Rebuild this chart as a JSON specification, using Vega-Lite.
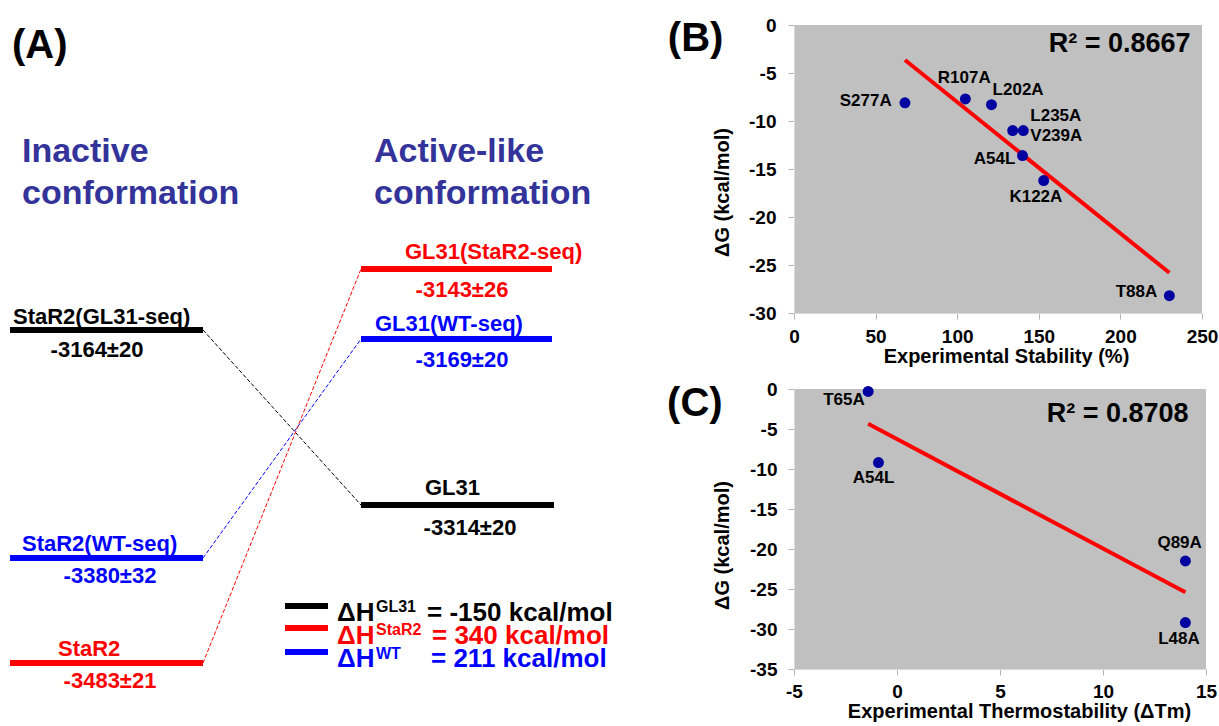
{
  "$schema": "https://vega.github.io/schema/vega-lite/v6.json",
  "background": "white",
  "padding": {"left": 0, "top": 16, "right": 0, "bottom": 0},
  "spacing": 37,
  "config": {
    "font": "Liberation Sans",
    "axis": {
      "labelFont": "Liberation Sans", "labelFontWeight": "bold", "labelFontSize": 19, "labelColor": "#000000",
      "titleFont": "Liberation Sans", "titleFontWeight": "bold", "titleFontSize": 20, "titleColor": "#000000",
      "domainColor": "#d9d9d9", "tickColor": "#b3b3b3", "tickSize": 6, "grid": false,
      "labelOverlap": false, "labelFlush": false, "labelBound": false
    },
    "text": {"font": "Liberation Sans", "fontWeight": "bold"}
  },
  "datasets": {
    "levels": [
      {"name": "StaR2(GL31-seq)", "series": "GL31", "x": 10, "x2": 203, "y": 321},
      {"name": "StaR2(WT-seq)", "series": "WT", "x": 10, "x2": 203, "y": 549},
      {"name": "StaR2", "series": "StaR2", "x": 10, "x2": 203, "y": 654},
      {"name": "GL31(StaR2-seq)", "series": "StaR2", "x": 361, "x2": 552, "y": 260},
      {"name": "GL31(WT-seq)", "series": "WT", "x": 361, "x2": 552, "y": 330},
      {"name": "GL31", "series": "GL31", "x": 361, "x2": 554, "y": 496}
    ],
    "connectors": [
      {"series": "GL31", "x": 203, "y": 321, "x2": 361, "y2": 496},
      {"series": "WT", "x": 203, "y": 549, "x2": 361, "y2": 330},
      {"series": "StaR2", "x": 203, "y": 654, "x2": 361, "y2": 260}
    ],
    "swatches": [
      {"series": "GL31", "x": 285, "x2": 328, "y": 597},
      {"series": "StaR2", "x": 285, "x2": 328, "y": 619},
      {"series": "WT", "x": 285, "x2": 328, "y": 643}
    ],
    "leveltext": [
      {"t": "StaR2(GL31-seq)", "series": "GL31", "x": 13, "y": 315},
      {"t": "StaR2(WT-seq)", "series": "WT", "x": 22, "y": 542},
      {"t": "StaR2", "series": "StaR2", "x": 58, "y": 647},
      {"t": "GL31(StaR2-seq)", "series": "StaR2", "x": 405, "y": 250},
      {"t": "GL31(WT-seq)", "series": "WT", "x": 375, "y": 322},
      {"t": "GL31", "series": "GL31", "x": 425, "y": 486}
    ],
    "valuetext": [
      {"t": "-3164±20", "series": "GL31", "x": 97, "y": 348},
      {"t": "-3380±32", "series": "WT", "x": 110, "y": 574},
      {"t": "-3483±21", "series": "StaR2", "x": 110, "y": 679},
      {"t": "-3143±26", "series": "StaR2", "x": 462, "y": 288},
      {"t": "-3169±20", "series": "WT", "x": 462, "y": 358},
      {"t": "-3314±20", "series": "GL31", "x": 470, "y": 526}
    ],
    "headers": [
      {"t": "Inactive", "series": "header", "x": 22, "y": 153},
      {"t": "conformation", "series": "header", "x": 22, "y": 195},
      {"t": "Active-like", "series": "header", "x": 374, "y": 153},
      {"t": "conformation", "series": "header", "x": 374, "y": 195}
    ],
    "legendtext": [
      {"t": "ΔH", "series": "GL31", "x": 337, "y": 612},
      {"t": "= -150 kcal/mol", "series": "GL31", "x": 427, "y": 612},
      {"t": "ΔH", "series": "StaR2", "x": 337, "y": 635},
      {"t": "= 340 kcal/mol", "series": "StaR2", "x": 432, "y": 635},
      {"t": "ΔH", "series": "WT", "x": 337, "y": 658},
      {"t": "= 211 kcal/mol", "series": "WT", "x": 431, "y": 658}
    ],
    "supertext": [
      {"t": "GL31", "series": "GL31", "x": 376, "y": 603},
      {"t": "StaR2", "series": "StaR2", "x": 376, "y": 626},
      {"t": "WT", "series": "WT", "x": 376, "y": 650}
    ],
    "panelA": [{"t": "(A)", "x": 12, "y": 49}],
    "B": [
      {"mutant": "S277A", "stab": 68, "dG": -8.1, "lx": 59.9, "ly": -7.95, "side": "end"},
      {"mutant": "R107A", "stab": 105, "dG": -7.7, "lx": 104.3, "ly": -5.49, "side": "center"},
      {"mutant": "L202A", "stab": 121, "dG": -8.3, "lx": 121.7, "ly": -6.8, "side": "start"},
      {"mutant": "L235A", "stab": 134, "dG": -11.0, "lx": 144.8, "ly": -9.48, "side": "start"},
      {"mutant": "V239A", "stab": 140.5, "dG": -11.0, "lx": 144.8, "ly": -11.6, "side": "start"},
      {"mutant": "A54L", "stab": 140, "dG": -13.6, "lx": 135.6, "ly": -14.0, "side": "end"},
      {"mutant": "K122A", "stab": 153, "dG": -16.2, "lx": 132, "ly": -17.9, "side": "start"},
      {"mutant": "T88A", "stab": 230, "dG": -28.2, "lx": 222.6, "ly": -27.85, "side": "end"}
    ],
    "Bstat": [{"t": "R² = 0.8667", "lx": 243, "ly": -1.98}],
    "Bpanel": [{"t": "(B)", "lx": -77.3, "ly": -2.7}],
    "C": [
      {"mutant": "T65A", "dTm": -1.4, "dG": -0.3, "lx": -1.567, "ly": -1.41, "side": "end"},
      {"mutant": "A54L", "dTm": -0.9, "dG": -9.2, "lx": -1.137, "ly": -11.17, "side": "center"},
      {"mutant": "Q89A", "dTm": 14, "dG": -21.5, "lx": 13.72, "ly": -19.19, "side": "center"},
      {"mutant": "L48A", "dTm": 14, "dG": -29.2, "lx": 13.69, "ly": -31.25, "side": "center"}
    ],
    "Cstat": [{"t": "R² = 0.8708", "lx": 14.15, "ly": -3.125}],
    "Cpanel": [{"t": "(C)", "lx": -11.16, "ly": -3.33}]
  },
  "hconcat": [
    {
      "width": 630,
      "height": 710,
      "view": {"stroke": null, "fill": null},
      "encoding": {
        "x": {"field": "x", "type": "quantitative", "scale": {"domain": [0, 630], "nice": false, "zero": false}, "axis": null},
        "y": {"field": "y", "type": "quantitative", "scale": {"domain": [16, 726], "reverse": true, "nice": false, "zero": false}, "axis": null},
        "color": {"field": "series", "type": "nominal", "scale": {"domain": ["GL31", "StaR2", "WT", "header"], "range": ["#000000", "#ff0000", "#0000ff", "#333399"]}, "legend": null}
      },
      "layer": [
        {
          "data": {"name": "connectors"},
          "mark": {"type": "rule", "strokeWidth": 1, "strokeDash": [4, 2]},
          "encoding": {"x2": {"field": "x2"}, "y2": {"field": "y2"}}
        },
        {
          "data": {"name": "levels"},
          "mark": {"type": "rule", "strokeWidth": 6},
          "encoding": {"x2": {"field": "x2"}}
        },
        {
          "data": {"name": "swatches"},
          "mark": {"type": "rule", "strokeWidth": 6},
          "encoding": {"x2": {"field": "x2"}}
        },
        {
          "data": {"name": "leveltext"},
          "mark": {"type": "text", "align": "left", "baseline": "alphabetic", "fontSize": 22, "fontWeight": "bold"},
          "encoding": {"text": {"field": "t"}}
        },
        {
          "data": {"name": "valuetext"},
          "mark": {"type": "text", "align": "center", "baseline": "alphabetic", "fontSize": 22, "fontWeight": "bold"},
          "encoding": {"text": {"field": "t"}}
        },
        {
          "data": {"name": "headers"},
          "mark": {"type": "text", "align": "left", "baseline": "alphabetic", "fontSize": 34, "fontWeight": "bold"},
          "encoding": {"text": {"field": "t"}}
        },
        {
          "data": {"name": "legendtext"},
          "mark": {"type": "text", "align": "left", "baseline": "alphabetic", "fontSize": 26, "fontWeight": "bold"},
          "encoding": {"text": {"field": "t"}}
        },
        {
          "data": {"name": "supertext"},
          "mark": {"type": "text", "align": "left", "baseline": "alphabetic", "fontSize": 16, "fontWeight": "bold"},
          "encoding": {"text": {"field": "t"}}
        },
        {
          "data": {"name": "panelA"},
          "mark": {"type": "text", "align": "left", "baseline": "alphabetic", "fontSize": 40, "fontWeight": "bold"},
          "encoding": {"text": {"field": "t"}, "color": {"value": "#000000"}}
        }
      ]
    },
    {
      "concat": [
        {
          "width": 408,
          "height": 288,
          "view": {"fill": "#c0c0c0", "stroke": null},
          "layer": [
            {
              "data": {"name": "B"},
              "transform": [{"regression": "dG", "on": "stab"}],
              "mark": {"type": "line", "color": "#ff0000", "strokeWidth": 4},
              "encoding": {
                "x": {"field": "stab", "type": "quantitative", "title": "Experimental Stability (%)",
                  "scale": {"domain": [0, 250], "nice": false, "zero": false},
                  "axis": {"values": [0, 50, 100, 150, 200, 250], "labelFontWeight": "bold", "labelOverlap": false, "labelPadding": 8, "titlePadding": 0, "titleX": 212, "labelExpr": "'' + datum.value"}},
                "y": {"field": "dG", "type": "quantitative", "title": "ΔG (kcal/mol)",
                  "scale": {"domain": [-30, 0], "nice": false, "zero": false},
                  "axis": {"values": [0, -5, -10, -15, -20, -25, -30], "labelFontWeight": "bold", "labelOverlap": false, "labelPadding": 12, "titlePadding": 16.5, "titleY": 167, "labelExpr": "'' + datum.value"}}
              }
            },
            {
              "data": {"name": "B"},
              "mark": {"type": "circle", "size": 120, "color": "#0000a0", "opacity": 1},
              "encoding": {
                "x": {"field": "stab", "type": "quantitative", "title": "Experimental Stability (%)"},
                "y": {"field": "dG", "type": "quantitative", "title": "ΔG (kcal/mol)"}
              }
            },
            {
              "data": {"name": "B"},
              "transform": [{"filter": "datum.side === 'end'"}],
              "mark": {"type": "text", "align": "right", "baseline": "middle", "fontSize": 17},
              "encoding": {"x": {"field": "lx", "type": "quantitative", "title": "Experimental Stability (%)"}, "y": {"field": "ly", "type": "quantitative", "title": "ΔG (kcal/mol)"}, "text": {"field": "mutant"}}
            },
            {
              "data": {"name": "B"},
              "transform": [{"filter": "datum.side === 'start'"}],
              "mark": {"type": "text", "align": "left", "baseline": "middle", "fontSize": 17},
              "encoding": {"x": {"field": "lx", "type": "quantitative", "title": "Experimental Stability (%)"}, "y": {"field": "ly", "type": "quantitative", "title": "ΔG (kcal/mol)"}, "text": {"field": "mutant"}}
            },
            {
              "data": {"name": "B"},
              "transform": [{"filter": "datum.side === 'center'"}],
              "mark": {"type": "text", "align": "center", "baseline": "middle", "fontSize": 17},
              "encoding": {"x": {"field": "lx", "type": "quantitative", "title": "Experimental Stability (%)"}, "y": {"field": "ly", "type": "quantitative", "title": "ΔG (kcal/mol)"}, "text": {"field": "mutant"}}
            },
            {
              "data": {"name": "Bstat"},
              "mark": {"type": "text", "align": "right", "baseline": "middle", "fontSize": 27},
              "encoding": {"x": {"field": "lx", "type": "quantitative", "title": "Experimental Stability (%)"}, "y": {"field": "ly", "type": "quantitative", "title": "ΔG (kcal/mol)"}, "text": {"field": "t"}}
            },
            {
              "data": {"name": "Bpanel"},
              "mark": {"type": "text", "align": "left", "baseline": "alphabetic", "fontSize": 40},
              "encoding": {"x": {"field": "lx", "type": "quantitative", "title": "Experimental Stability (%)"}, "y": {"field": "ly", "type": "quantitative", "title": "ΔG (kcal/mol)"}, "text": {"field": "t"}}
            }
          ]
        },
        {
          "width": 412,
          "height": 280,
          "view": {"fill": "#c0c0c0", "stroke": null},
          "layer": [
            {
              "data": {"name": "C"},
              "transform": [{"regression": "dG", "on": "dTm"}],
              "mark": {"type": "line", "color": "#ff0000", "strokeWidth": 4},
              "encoding": {
                "x": {"field": "dTm", "type": "quantitative", "title": "Experimental Thermostability (ΔTm)",
                  "scale": {"domain": [-5, 15], "nice": false, "zero": false},
                  "axis": {"values": [-5, 0, 5, 10, 15], "labelFontWeight": "bold", "labelOverlap": false, "labelPadding": 7, "titlePadding": 0, "titleX": 225, "labelExpr": "'' + datum.value"}},
                "y": {"field": "dG", "type": "quantitative", "title": "ΔG (kcal/mol)",
                  "scale": {"domain": [-35, 0], "nice": false, "zero": false},
                  "axis": {"values": [0, -5, -10, -15, -20, -25, -30, -35], "tickCount": 8, "labelFontWeight": "bold", "labelOverlap": false, "labelPadding": 11, "titlePadding": 17.5, "titleY": 156, "labelExpr": "'' + datum.value"}}
              }
            },
            {
              "data": {"name": "C"},
              "mark": {"type": "circle", "size": 120, "color": "#0000a0", "opacity": 1},
              "encoding": {
                "x": {"field": "dTm", "type": "quantitative", "title": "Experimental Thermostability (ΔTm)"},
                "y": {"field": "dG", "type": "quantitative", "title": "ΔG (kcal/mol)"}
              }
            },
            {
              "data": {"name": "C"},
              "transform": [{"filter": "datum.side === 'end'"}],
              "mark": {"type": "text", "align": "right", "baseline": "middle", "fontSize": 17},
              "encoding": {"x": {"field": "lx", "type": "quantitative", "title": "Experimental Thermostability (ΔTm)"}, "y": {"field": "ly", "type": "quantitative", "title": "ΔG (kcal/mol)"}, "text": {"field": "mutant"}}
            },
            {
              "data": {"name": "C"},
              "transform": [{"filter": "datum.side === 'center'"}],
              "mark": {"type": "text", "align": "center", "baseline": "middle", "fontSize": 17},
              "encoding": {"x": {"field": "lx", "type": "quantitative", "title": "Experimental Thermostability (ΔTm)"}, "y": {"field": "ly", "type": "quantitative", "title": "ΔG (kcal/mol)"}, "text": {"field": "mutant"}}
            },
            {
              "data": {"name": "Cstat"},
              "mark": {"type": "text", "align": "right", "baseline": "middle", "fontSize": 27},
              "encoding": {"x": {"field": "lx", "type": "quantitative", "title": "Experimental Thermostability (ΔTm)"}, "y": {"field": "ly", "type": "quantitative", "title": "ΔG (kcal/mol)"}, "text": {"field": "t"}}
            },
            {
              "data": {"name": "Cpanel"},
              "mark": {"type": "text", "align": "left", "baseline": "alphabetic", "fontSize": 40},
              "encoding": {"x": {"field": "lx", "type": "quantitative", "title": "Experimental Thermostability (ΔTm)"}, "y": {"field": "ly", "type": "quantitative", "title": "ΔG (kcal/mol)"}, "text": {"field": "t"}}
            }
          ]
        }
      ],
      "columns": 1,
      "align": "none",
      "spacing": 14
    }
  ]
}
